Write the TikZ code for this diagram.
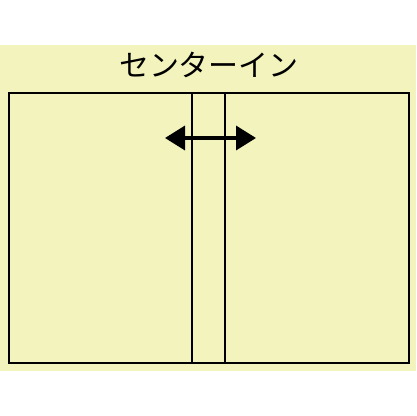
\documentclass[tikz,border=0pt]{standalone}
\usepackage{fontspec}
\newfontfamily\jpfont{Noto Sans CJK JP}
\usetikzlibrary{arrows.meta}
\definecolor{bgyellow}{RGB}{243,243,189}
\tikzset{
  frame/.style={draw=black, line width=2.2pt},
  divider/.style={draw=black, line width=2.2pt},
  dblarrow/.style={line width=3.5pt, {Triangle[length=20pt,width=24pt]}-{Triangle[length=20pt,width=24pt]}},
  title/.style={font=\jpfont\fontsize{30}{34}\selectfont, inner sep=0pt}
}
\begin{document}
\begin{tikzpicture}[x=1pt,y=1pt]
\useasboundingbox (0,0) rectangle (416,416);
\fill[white] (0,0) rectangle (416,416);
\fill[bgyellow] (0,45) rectangle (416,371);
\node[title] (t) at (209,351) {センターイン};
\draw[frame] (9,53) rectangle (409,323);
\coordinate (d1t) at (192,323);
\coordinate (d1b) at (192,53);
\coordinate (d2t) at (225,323);
\coordinate (d2b) at (225,53);
\draw[divider] (d1t) -- (d1b);
\draw[divider] (d2t) -- (d2b);
\coordinate (al) at (165,278);
\coordinate (ar) at (256,278);
\draw[dblarrow] (al) -- (ar);
\end{tikzpicture}
\end{document}
